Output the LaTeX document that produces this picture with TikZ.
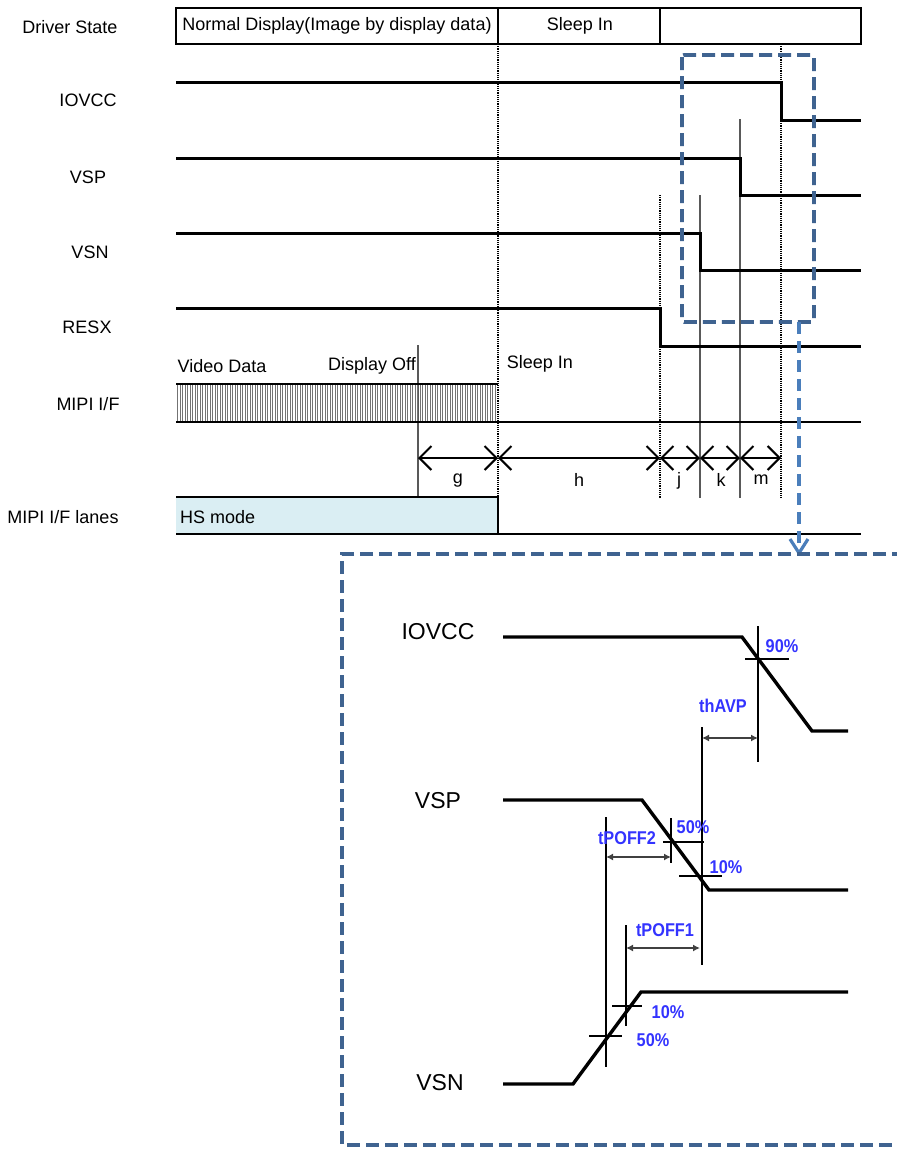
\documentclass[tikz,border=0pt]{standalone}
\usepackage{fontspec}
\setmainfont{Liberation Sans}
\newfontfamily\pctfont{Liberation Sans}[FakeStretch=0.88]
\usetikzlibrary{arrows.meta}
\definecolor{boxblue}{HTML}{3F6390}
\definecolor{arrblue}{HTML}{4A7EBB}
\definecolor{lanefill}{HTML}{DAEEF3}
\definecolor{pctblue}{HTML}{3333FF}
\begin{document}
\begin{tikzpicture}[x=1pt,y=-1pt,
  lbl/.style={font=\fontsize{18}{20}\selectfont, inner sep=0pt},
  big/.style={font=\fontsize{23}{25}\selectfont, inner sep=0pt},
  pct/.style={font=\pctfont\bfseries\fontsize{18.5}{20}\selectfont, text=pctblue, inner sep=0pt},
  sig/.style={line width=3, line join=miter},
  wave/.style={line width=3.4, line join=miter},
  dotv/.style={line width=1.2, densely dotted},
  grayv/.style={line width=2, black!65},
  thin/.style={line width=1.3},
  dim/.style={line width=2, {Straight Barb[length=12pt,width=24pt]}-{Straight Barb[length=12pt,width=24pt]}},
  meas/.style={line width=2.2, black!75, {Latex[length=7pt,width=7pt]}-{Latex[length=7pt,width=7pt]}},
  dbox/.style={boxblue, line width=3.8, dash pattern=on 13pt off 6pt},
]
\useasboundingbox (0,0) rectangle (897,1149);

% ---------- top state bar ----------
\draw[line width=2.8] (176,8) rectangle (861,44);
\draw[line width=2.2] (498,8) -- (498,44) (660,8) -- (660,44);
\node[lbl] (nd) at (337,26) {Normal Display(Image by display data)};
\node[lbl] (si) at (580,26) {Sleep In};

% ---------- left labels ----------
\node[lbl] (ds) at (70,27) {Driver State};
\node[lbl] (io) at (88,100) {IOVCC};
\node[lbl] (vp) at (88,177) {VSP};
\node[lbl] (vn) at (90,252) {VSN};
\node[lbl] (rx) at (87,327) {RESX};
\node[lbl] (mi) at (88,404) {MIPI I/F};
\node[lbl] (ml) at (63,517) {MIPI I/F lanes};

% ---------- vertical guides ----------
\draw[dotv] (498,44) -- (498,497);
\draw[dotv] (781,44) -- (781,498);
\draw[dotv] (660,195) -- (660,498);
\draw[grayv] (700,195) -- (700,498);
\draw[grayv] (740,119) -- (740,498);
\draw[grayv] (418,345) -- (418,497);

% ---------- signals ----------
\draw[sig] (176,82) -- (781,82) -- (781,120) -- (861,120);
\draw[sig] (176,158) -- (740,158) -- (740,195) -- (861,195);
\draw[sig] (176,233) -- (700,233) -- (700,270) -- (861,270);
\draw[sig] (176,308) -- (660,308) -- (660,346) -- (861,346);

% ---------- MIPI I/F ----------
\foreach \x in {177.5,180,...,497} \draw[black!55, line width=1] (\x,385) -- (\x,421);
\draw[line width=2.6] (176,384) -- (498,384);
\draw[line width=2.6] (176,422) -- (861,422);
\node[lbl] (vd) at (222,366) {Video Data};
\node[lbl] (dof) at (372,366) {Display Off};
\node[lbl] (si2) at (540,364) {Sleep In};

% ---------- lanes ----------
\fill[lanefill] (176,497) rectangle (498,534);
\draw[line width=2.6] (176,497) -- (498,497) -- (498,534);
\draw[line width=2.6] (176,534) -- (861,534);
\node[lbl, anchor=west] (hs) at (180,517) {HS mode};

% ---------- timing dimensions ----------
\coordinate (t0) at (418,458);
\coordinate (t1) at (498,458);
\coordinate (t2) at (660,458);
\coordinate (t3) at (700,458);
\coordinate (t4) at (740,458);
\coordinate (t5) at (781,458);
\draw[dim] (t0) -- (t1);
\draw[dim] (t1) -- (t2);
\draw[dim] (t2) -- (t3);
\draw[dim] (t3) -- (t4);
\draw[dim] (t4) -- (t5);
\node[lbl] (lg) at (458,481) {g};
\node[lbl] (lh) at (579,480) {h};
\node[lbl] (lj) at (679,481) {j};
\node[lbl] (lk) at (721,480) {k};
\node[lbl] (lm) at (761,480) {m};

% ---------- dashed zoom boxes ----------
\draw[dbox, rounded corners=2] (682,55) rectangle (814,322);
\coordinate (za) at (799,322);
\coordinate (zb) at (799,556);
\draw[arrblue, line width=3.2, dash pattern=on 12pt off 7pt, -{Straight Barb[length=14pt,width=18pt]}] (za) -- (zb);
\draw[dbox] (905,554) -- (342,554) -- (342,1145) -- (905,1145);

% ---------- inset waveforms ----------
\node[big] (iio) at (438,632) {IOVCC};
\node[big] (ivp) at (438,801) {VSP};
\node[big] (ivn) at (440,1083) {VSN};

\draw[wave] (503,637) -- (742,637) -- (812,731) -- (848,731);
\draw[wave] (503,800) -- (642,800) -- (709,890) -- (848,890);
\draw[wave] (503,1084) -- (573,1084) -- (641,992) -- (848,992);

% markers
\draw[thin] (745,659) -- (789,659);
\draw[thin] (758,626) -- (758,762);
\draw[thin] (702,727) -- (702,965);
\draw[thin] (663,842) -- (704,842);
\draw[thin] (671,818) -- (671,863);
\draw[thin] (679,876) -- (722,876);
\draw[thin] (606,817) -- (606,1067);
\draw[thin] (626,925) -- (626,1026);
\draw[thin] (612,1006) -- (642,1006);
\draw[thin] (589,1036) -- (622,1036);

% measurement arrows
\coordinate (a1) at (702,738);
\coordinate (a2) at (758,738);
\draw[meas] (a1) -- (a2);
\coordinate (b1) at (606,857);
\coordinate (b2) at (671,857);
\draw[meas] (b1) -- (b2);
\coordinate (c1) at (626,948);
\coordinate (c2) at (700,948);
\draw[meas] (c1) -- (c2);

% blue labels
\node[pct] (p90) at (782,646) {90\%};
\node[pct] (pth) at (723,706) {thAVP};
\node[pct] (pt2) at (627,838) {tPOFF2};
\node[pct] (p50a) at (693,827) {50\%};
\node[pct] (p10a) at (726,867) {10\%};
\node[pct] (pt1) at (665,930) {tPOFF1};
\node[pct] (p10b) at (668,1012) {10\%};
\node[pct] (p50b) at (653,1040) {50\%};
\end{tikzpicture}
\end{document}
